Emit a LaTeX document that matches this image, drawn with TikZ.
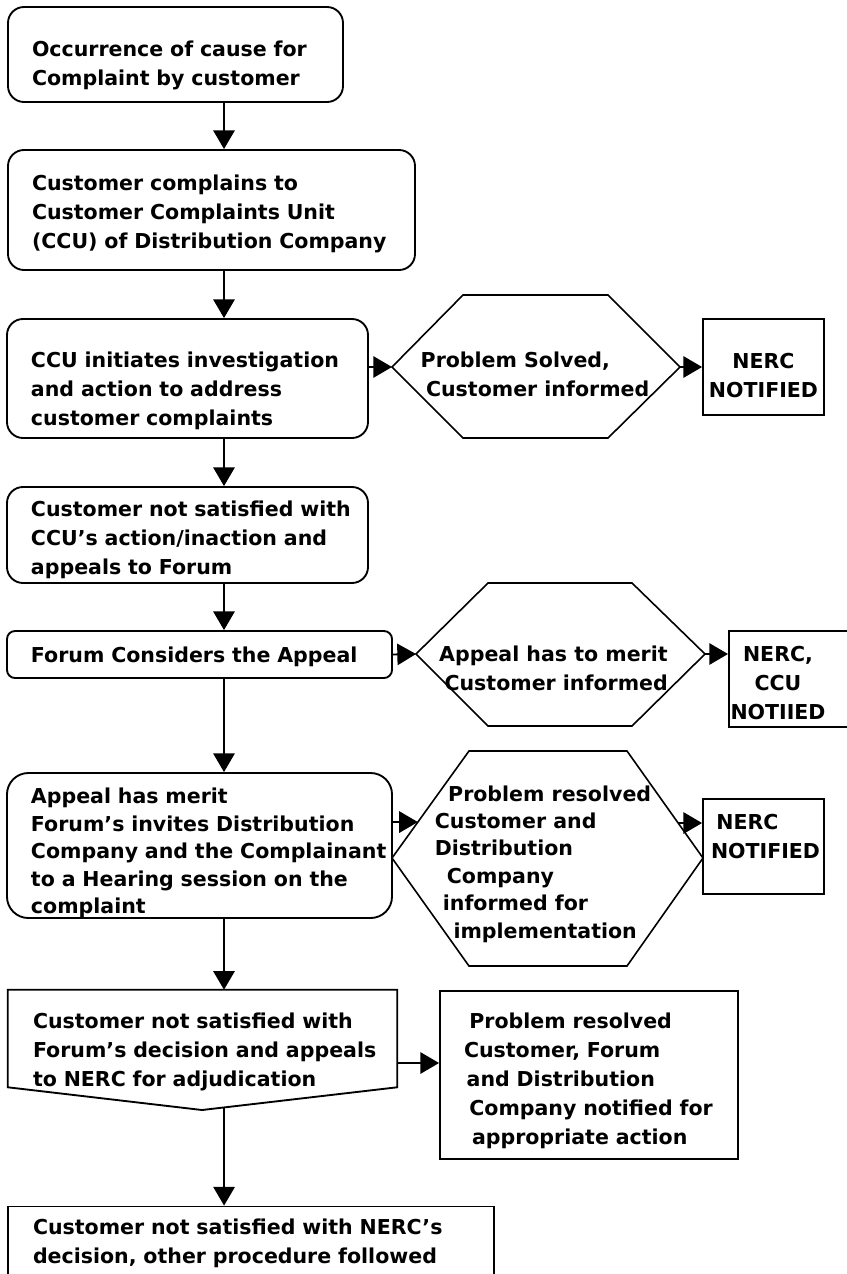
\documentclass[tikz,border=0pt]{standalone}
\usepackage{fontspec}
\setmainfont{DejaVu Sans}
\usetikzlibrary{arrows.meta,calc,positioning}

\tikzset{
  roundbox/.style={draw, line width=1.4pt, rounded corners=12pt, align=left, inner sep=0pt},
  squarebox/.style={draw, line width=1.4pt, align=left, inner sep=0pt},
  textonly/.style={align=left, inner sep=0pt},
  indented/.style={execute at begin node={\leftskip=#1\relax}},
  tightlines/.style={font={\fontsize{15.4pt}{20.6pt}\selectfont\bfseries}},
  hexline/.style={line width=1.2pt, line join=miter},
  flow/.style={line width=1.4pt, -{Triangle[length=14pt,width=16pt]}}
}

\begin{document}
\begin{tikzpicture}[x=0.75pt, y=-0.75pt, font={\fontsize{15.4pt}{21.75pt}\selectfont\bfseries}]
  % Define dimensions
  \def\px{0.75pt}
  \useasboundingbox (0,0) rectangle (846,1274);
  \coordinate (spine) at (224,0);

  % Main column
  \node[roundbox, indented=18pt, text width=335*\px, minimum height=95*\px, text height=28pt] (occur) at (175.5,54.5)
    {Occurrence of cause for\\Complaint by customer};
  \node[roundbox, indented=18pt, text width=407*\px, minimum height=120*\px, text height=18.3pt] (complain) at (211.5,210)
    {Customer complains to\\Customer Complaints Unit\\(CCU) of Distribution Company};
  \node[roundbox, indented=18pt, text width=361*\px, minimum height=119*\px, text height=29.5pt] (ccu) at (187.5,378.5)
    {CCU initiates investigation\\and action to address\\customer complaints};
  \node[roundbox, indented=18pt, text width=361*\px, minimum height=96*\px, text height=18.3pt] (notsat) at (187.5,535)
    {Customer not satisfied with\\CCU’s action/inaction and\\appeals to Forum};
  \node[roundbox, indented=18pt, rounded corners=6pt, text width=385*\px, minimum height=47*\px, text height=14.5pt] (forum) at (199.5,654.5)
    {Forum Considers the Appeal};
  \node[roundbox, indented=18pt, tightlines, rounded corners=16pt, text width=385*\px, minimum height=145*\px, text height=22.8pt] (merit) at (199.5,845.5)
    {Appeal has merit\\Forum’s invites Distribution\\Company and the Complainant\\to a Hearing session on the\\complaint};

  % Off-page shape
  \node[textonly, indented=18.75pt, text width=389*\px, minimum height=120*\px, text height=14.5pt] (nercappeal) at (202.5,1050)
    {Customer not satisfied with\\Forum’s decision and appeals\\to NERC for adjudication};
  \coordinate (nercappeal-tip) at (202,1110);
  \coordinate (nercappeal-se) at ($(nercappeal.south east)+(0,-23)$);
  \coordinate (nercappeal-sw) at ($(nercappeal.south west)+(0,-23)$);
  \coordinate (nercappeal-out) at ($(nercappeal-tip)!0.113!(nercappeal-se)$);
  \draw[line width=1.4pt] (nercappeal-sw) -- (nercappeal.north west) -- (nercappeal.north east)
    -- (nercappeal-se) -- (nercappeal-tip) -- cycle;

  \node[squarebox, indented=18pt, text width=298*\px, minimum height=168*\px, text height=20.5pt] (resolved) at (589,1075)
    {\hspace*{4pt}Problem resolved\\Customer, Forum\\\hspace*{2pt}and Distribution\\\hspace*{4pt}Company notified for\\\hspace*{6pt}appropriate action};
  \coordinate (resolved-in) at ($(resolved.west)+(0,-12)$);
  \node[squarebox, indented=18.75pt, text width=486*\px, minimum height=70*\px, text height=14.5pt] (final) at (251,1241.5)
    {Customer not satisfied with NERC’s\\decision, other procedure followed};

  % Hexagons
  \coordinate (hexone-w) at (392,367);
  \coordinate (hexone-nw) at (463,295);
  \coordinate (hexone-ne) at (608,295);
  \coordinate (hexone-e) at (680,367);
  \coordinate (hexone-se) at (608,438);
  \coordinate (hexone-sw) at (463,438);
  \draw[hexline] (hexone-w) -- (hexone-nw) -- (hexone-ne) -- (hexone-e) -- (hexone-se) -- (hexone-sw) -- cycle;
  \node[textonly] (solved) at (535,374) {Problem Solved,\\\hspace*{4pt}Customer informed};

  \coordinate (hextwo-w) at (416,654);
  \coordinate (hextwo-nw) at (488,583);
  \coordinate (hextwo-ne) at (632,583);
  \coordinate (hextwo-e) at (705,654);
  \coordinate (hextwo-se) at (632,726);
  \coordinate (hextwo-sw) at (488,726);
  \draw[hexline] (hextwo-w) -- (hextwo-nw) -- (hextwo-ne) -- (hextwo-e) -- (hextwo-se) -- (hextwo-sw) -- cycle;
  \node[textonly] (tomerit) at (553.5,668.5) {Appeal has to merit\\\hspace*{4pt}Customer informed};

  \coordinate (hexthree-w) at (392,858);
  \coordinate (hexthree-nw) at (469,751);
  \coordinate (hexthree-ne) at (627,751);
  \coordinate (hexthree-e) at (703,858);
  \coordinate (hexthree-se) at (627,966);
  \coordinate (hexthree-sw) at (469,966);
  \coordinate (hexthree-in) at ($(hexthree-w)!0.336!(hexthree-nw)$);
  \coordinate (hexthree-out) at ($(hexthree-ne)!0.673!(hexthree-e)$);
  \draw[hexline] (hexthree-w) -- (hexthree-nw) -- (hexthree-ne) -- (hexthree-e) -- (hexthree-se) -- (hexthree-sw) -- cycle;
  \node[textonly, tightlines] (implement) at (543,864)
    {\hspace*{10pt}Problem resolved\\Customer and\\Distribution\\\hspace*{9pt}Company\\\hspace*{6pt}informed for\\\hspace*{14pt}implementation};

  % NERC boxes
  \node[squarebox, align=center, text width=121*\px, minimum height=96*\px, text height=24pt] (nercone) at (763.5,367)
    {NERC\\NOTIFIED};
  \node[squarebox, minimum width=140*\px, minimum height=96*\px, anchor=west] (nerctwo) at (728,679) {};
  \node[textonly, align=center] (nerctwo-text) at (778,683) {NERC,\\CCU\\NOTIIED};
  \node[squarebox, indented=6pt, text width=121*\px, minimum height=95*\px, text height=18.6pt] (nercthree) at (763.5,846.5)
    {\hspace*{4pt}NERC\\NOTIFIED\\~};

  % Connectors
  \draw[flow] (occur.south -| spine) -- (complain.north -| spine);
  \draw[flow] (complain.south -| spine) -- (ccu.north -| spine);
  \draw[flow] (ccu.south -| spine) -- (notsat.north -| spine);
  \draw[flow] (notsat.south -| spine) -- (forum.north -| spine);
  \draw[flow] (forum.south -| spine) -- (merit.north -| spine);
  \draw[flow] (merit.south -| spine) -- (nercappeal.north -| spine);
  \draw[flow] (nercappeal-out) -- (final.north -| nercappeal-out);

  \draw[flow] (ccu.east |- hexone-w) -- (hexone-w);
  \draw[flow] (hexone-e) -- (nercone.west);
  \draw[flow] (forum.east) -- (hextwo-w);
  \draw[flow] (hextwo-e) -- (hextwo-e -| nerctwo.west);
  \draw[flow] (merit.east |- hexthree-in) -- (hexthree-in);
  \draw[flow] (hexthree-out) -- (hexthree-out -| nercthree.west);
  \draw[flow] (nercappeal.east |- resolved-in) -- (resolved-in);

\end{tikzpicture}
\end{document}
